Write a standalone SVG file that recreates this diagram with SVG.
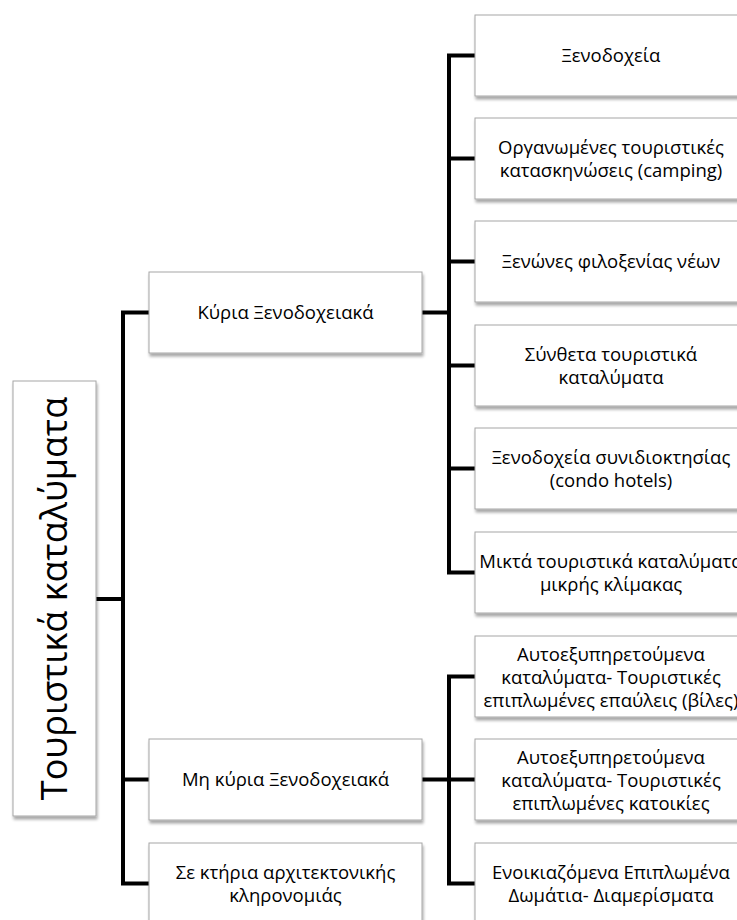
<svg xmlns="http://www.w3.org/2000/svg" width="737" height="920" viewBox="0 0 737 920">
<defs>
<filter id="sh" x="-10%" y="-10%" width="130%" height="130%">
<feGaussianBlur in="SourceAlpha" stdDeviation="1.5"/>
<feOffset dx="1" dy="3" result="b"/>
<feComponentTransfer><feFuncA type="linear" slope="0.35"/></feComponentTransfer>
<feMerge><feMergeNode/><feMergeNode in="SourceGraphic"/></feMerge>
</filter>
</defs>
<style>
.box{fill:#ffffff;stroke:#a6a6a6;stroke-width:1;filter:url(#sh)}
.t{font-family:"Open Sans","Noto Sans",sans-serif;font-size:18.5px;fill:#000;text-anchor:middle}
.root{font-family:"Open Sans","Noto Sans",sans-serif;font-size:36px;fill:#000;text-anchor:middle}
.c{fill:none;stroke:#000;stroke-width:4;stroke-linejoin:miter;stroke-linecap:butt}
</style>
<rect width="737" height="920" fill="#ffffff"/>
<g id="connectors">
<path class="c" d="M96 599 H123"/>
<path class="c" d="M149 312.5 H123 V883.5 H149"/>
<path class="c" d="M123 779.5 H149"/>
<path class="c" d="M422 312.5 H449"/>
<path class="c" d="M475 55.5 H449 V572.5 H475"/>
<path class="c" d="M449 158.5 H475 M449 261.5 H475 M449 365.5 H475 M449 468.5 H475"/>
<path class="c" d="M422 779.5 H475"/>
<path class="c" d="M475 676.5 H449 V883.5 H475"/>
</g>
<g id="root">
<rect class="box" x="13" y="381" width="83" height="435"/>
<text class="root" transform="translate(67,598.5) rotate(-90)">Τουριστικά καταλύματα</text>
</g>
<g id="kyria">
<rect class="box" x="149" y="272" width="273" height="81"/>
<text class="t" x="285.5" y="319">Κύρια Ξενοδοχειακά</text>
</g>
<g id="mi-kyria">
<rect class="box" x="149" y="739" width="273" height="81"/>
<text class="t" x="285.5" y="786">Μη κύρια Ξενοδοχειακά</text>
</g>
<g id="ktiria">
<rect class="box" x="149" y="843" width="273" height="81"/>
<text class="t" x="285.5" y="879">Σε κτήρια αρχιτεκτονικής</text>
<text class="t" x="285.5" y="902">κληρονομιάς</text>
</g>
<g id="xenodoxeia">
<rect class="box" x="475" y="15" width="272" height="81"/>
<text class="t" x="611" y="62">Ξενοδοχεία</text>
</g>
<g id="camping">
<rect class="box" x="475" y="118" width="272" height="81"/>
<text class="t" x="611" y="154">Οργανωμένες τουριστικές</text>
<text class="t" x="611" y="177">κατασκηνώσεις (camping)</text>
</g>
<g id="xenones">
<rect class="box" x="475" y="221" width="272" height="81"/>
<text class="t" x="611" y="268">Ξενώνες φιλοξενίας νέων</text>
</g>
<g id="syntheta">
<rect class="box" x="475" y="325" width="272" height="81"/>
<text class="t" x="611" y="361">Σύνθετα τουριστικά</text>
<text class="t" x="611" y="384">καταλύματα</text>
</g>
<g id="condo">
<rect class="box" x="475" y="428" width="272" height="81"/>
<text class="t" x="611" y="464">Ξενοδοχεία συνιδιοκτησίας</text>
<text class="t" x="611" y="487">(condo hotels)</text>
</g>
<g id="mikta">
<rect class="box" x="475" y="532" width="272" height="81"/>
<text class="t" x="611" y="568">Μικτά τουριστικά καταλύματα</text>
<text class="t" x="611" y="591">μικρής κλίμακας</text>
</g>
<g id="villes">
<rect class="box" x="475" y="636" width="272" height="81"/>
<text class="t" x="611" y="661">Αυτοεξυπηρετούμενα</text>
<text class="t" x="611" y="684">καταλύματα- Τουριστικές</text>
<text class="t" x="611" y="707">επιπλωμένες επαύλεις (βίλες)</text>
</g>
<g id="katoikies">
<rect class="box" x="475" y="739" width="272" height="81"/>
<text class="t" x="611" y="764">Αυτοεξυπηρετούμενα</text>
<text class="t" x="611" y="787">καταλύματα- Τουριστικές</text>
<text class="t" x="611" y="810">επιπλωμένες κατοικίες</text>
</g>
<g id="domatia">
<rect class="box" x="475" y="843" width="272" height="81"/>
<text class="t" x="611" y="879">Ενοικιαζόμενα Επιπλωμένα</text>
<text class="t" x="611" y="902">Δωμάτια- Διαμερίσματα</text>
</g>
</svg>
